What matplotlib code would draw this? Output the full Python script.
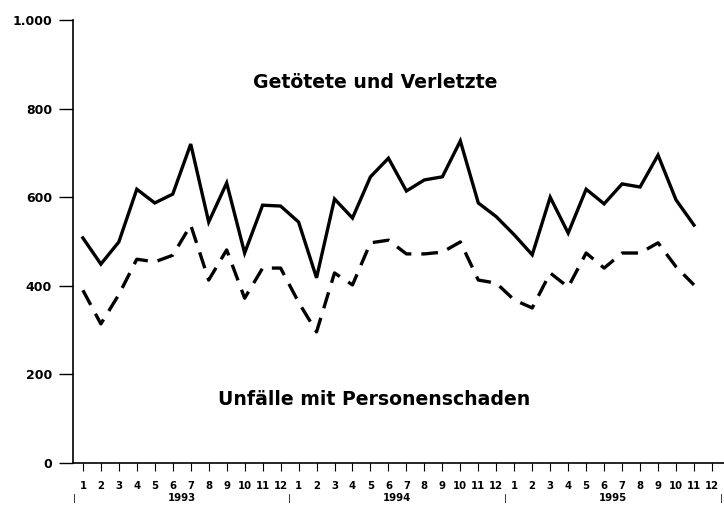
import numpy as np
import matplotlib
matplotlib.use("Agg")
import matplotlib.pyplot as plt

plt.rcParams['font.family'] = ['DejaVu Sans']
plt.rcParams['font.weight'] = 'bold'

# monthly values, Jan 1993 - Nov 1995
years = ["1993", "1994", "1995"]
month_labels = [str(m) for m in range(1, 13)] * 3

killed_injured = [508, 449, 499, 618, 587, 607, 720, 544, 632, 474, 582, 580,
                  544, 418, 596, 553, 646, 688, 614, 639, 646, 727, 587, 556,
                  515, 470, 600, 519, 618, 585, 630, 623, 695, 594, 537]
accidents = [390, 314, 380, 460, 454, 469, 537, 413, 481, 372, 440, 440,
             363, 296, 429, 402, 497, 503, 472, 472, 476, 499, 413, 406,
             368, 350, 429, 397, 474, 440, 474, 474, 497, 443, 402]

x = np.arange(1, len(killed_injured) + 1)

fig = plt.figure(figsize=(7.24, 5.09), dpi=100)
ax = fig.add_axes([73 / 724, 1 - 463 / 509, 1 - 73 / 724, (463 - 20) / 509])

ax.plot(x, killed_injured, color='black', lw=2.4, solid_joinstyle='miter')
ax.plot(x, accidents, color='black', lw=2.4, linestyle=(0, (5, 3)))

ax.set_xlim(0.45, 36.67)
ax.set_ylim(0, 1000)
ax.set_yticks([0, 200, 400, 600, 800, 1000])
ax.set_yticklabels(["0", "200", "400", "600", "800", "1.000"], fontsize=9, fontweight='bold')
ax.set_xticks(np.arange(1, 37))
ax.set_xticklabels(month_labels, fontsize=7.3, fontweight='bold')

ax.spines['top'].set_visible(False)
ax.spines['right'].set_visible(False)
ax.spines['left'].set_linewidth(1.2)
ax.spines['bottom'].set_linewidth(1.2)
ax.tick_params(axis='y', length=10, width=1.0, pad=5)
ax.tick_params(axis='x', length=6, width=0.8, pad=7)

# year labels and separators
for i, yr in enumerate(years):
    ax.text(6.5 + 12 * i, -0.08, yr, transform=ax.get_xaxis_transform(),
            ha='center', va='center', fontsize=7.3, fontweight='bold')
for s in [0.5, 12.5, 24.5, 36.5]:
    ax.text(s, -0.08, "|", transform=ax.get_xaxis_transform(),
            ha='center', va='center', fontsize=6.5, fontweight='normal')

ax.text(17.25, 860, "Getötete und Verletzte", ha='center', va='center',
        fontsize=13.6, fontweight='bold')
ax.text(17.2, 144, "Unfälle mit Personenschaden", ha='center', va='center',
        fontsize=13.6, fontweight='bold')

fig.savefig("out.png", dpi=100)
